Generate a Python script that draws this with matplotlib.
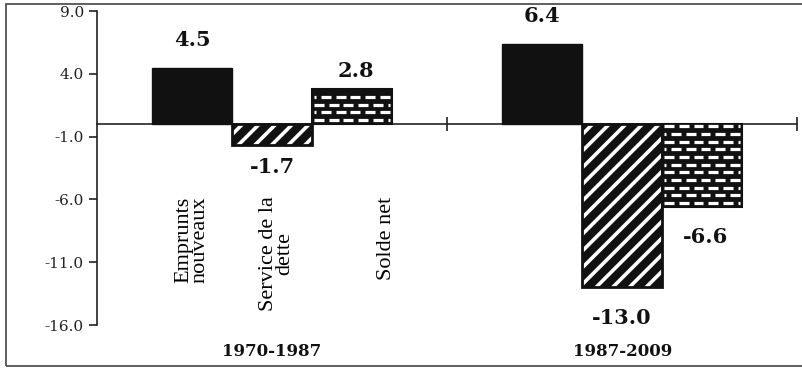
import numpy as np
import matplotlib
matplotlib.use("Agg")
import matplotlib.pyplot as plt
from matplotlib.patches import Rectangle
from matplotlib.collections import LineCollection

# ── data ──────────────────────────────────────────────────────────────────────
periods = ["1970-1987", "1987-2009"]
series = ["Emprunts\nnouveaux", "Service de la\ndette", "Solde net"]
emprunts = [4.5, 6.4]
service = [-1.7, -13.0]
solde = [2.8, -6.6]
yticks = [9.0, 4.0, -1.0, -6.0, -11.0, -16.0]

values = [emprunts, service, solde]

# ── figure ────────────────────────────────────────────────────────────────────
fig = plt.figure(figsize=(8.02, 3.70), dpi=100)
ax = fig.add_axes([0.121, 0.1216, 0.873, 0.8484])

x = np.arange(len(periods))
w = 0.228
offsets = [-w, 0.0, w]

ink = "#111111"
plt.rcParams["hatch.linewidth"] = 2.6

for k, (vals, off) in enumerate(zip(values, offsets)):
    xs = x + off
    if k == 0:
        ax.bar(xs, vals, w, color=ink, edgecolor=ink, linewidth=1, zorder=3)
    elif k == 1:
        # black fill with white diagonal stripes
        ax.bar(xs, vals, w, color=ink, edgecolor="white", hatch="//",
               linewidth=0, zorder=3)
        ax.bar(xs, vals, w, color="none", edgecolor=ink, linewidth=2, zorder=4)
    else:
        # black fill with white "brick" dashes
        bars = ax.bar(xs, vals, w, color=ink, edgecolor=ink, linewidth=1.5,
                      zorder=3)
        for b in bars:
            x0, y0 = b.get_x(), b.get_y()
            bw, bh = b.get_width(), b.get_height()
            lo, hi = min(y0, y0 + bh), max(y0, y0 + bh)
            segs = []
            row = 0
            yy = lo + 0.32
            while yy < hi - 0.15:
                start = x0 + 0.006 - (0.022 if row % 2 else 0.0)
                xx = start
                while xx < x0 + bw - 0.006:
                    segs.append([(max(xx, x0 + 0.006), yy),
                                 (min(xx + 0.028, x0 + bw - 0.006), yy)])
                    xx += 0.042
                yy += 0.61
                row += 1
            lc = LineCollection(segs, colors="white", linewidths=2.3, zorder=4)
            lc.set_clip_path(b)
            ax.add_collection(lc)

# value labels (per-series gap above / below the bar end, in data units)
gap_pos = [1.4, 0.6, 0.6]
gap_neg = [1.0, 0.95, 1.6]
dx_lab = [0.0, 0.0, 0.01]
lab_font = dict(family="DejaVu Serif", fontweight="bold", fontsize=15,
                color=ink)
for vals, off, gp, gn, dx in zip(values, offsets, gap_pos, gap_neg, dx_lab):
    for xi, v in zip(x, vals):
        if v >= 0:
            ax.text(xi + off + dx, v + gp, f"{v:.1f}", ha="center",
                    va="bottom", **lab_font)
        else:
            # deeper bars get their label pushed a little further down
            g = gn + (0.7 if v < -10 else 0.0)
            ax.text(xi + off + dx, v - g, f"{v:.1f}", ha="center",
                    va="top", **lab_font)

# rotated series names under the first group
name_dx = [0.0, 0.012, 0.1]
for name, off, dx in zip(series, offsets, name_dx):
    ax.text(x[0] + off + dx, 0.41, name, rotation=90, ha="center", va="top",
            transform=ax.get_xaxis_transform(), family="Liberation Serif",
            fontsize=16, linespacing=0.8, color="black")

# period labels
for xi, p in zip(x, periods):
    ax.text(xi, -0.085, p, ha="center", va="center",
            transform=ax.get_xaxis_transform(), family="DejaVu Serif",
            fontweight="bold", fontsize=12, color=ink)

# ── axes ──────────────────────────────────────────────────────────────────────
ax.set_xlim(-0.5, 1.5)
ax.set_ylim(-16, 9)
ax.set_yticks(yticks)
ax.set_yticklabels([f"{t:.1f}" for t in yticks], family="DejaVu Serif",
                   fontsize=11, color="#222222")
ax.set_xticks([0.5, 1.5])
ax.set_xticklabels(["", ""])
ax.spines["bottom"].set_position(("data", 0))
ax.spines["top"].set_visible(False)
ax.spines["right"].set_visible(False)
for s in ("left", "bottom"):
    ax.spines[s].set_color("#222222")
    ax.spines[s].set_linewidth(1.2)
ax.tick_params(axis="y", direction="out", length=6, width=1.2,
               colors="#222222")
ax.tick_params(axis="x", direction="inout", length=10, width=1.2,
               colors="#222222")
ax.set_facecolor("none")

# outer frame around the picture
fig.patches.append(Rectangle((6 / 802, 4 / 370), 800 / 802, 362 / 370,
                             transform=fig.transFigure, fill=False,
                             edgecolor="#444444", linewidth=1.2))

fig.savefig("out.png", dpi=100)
